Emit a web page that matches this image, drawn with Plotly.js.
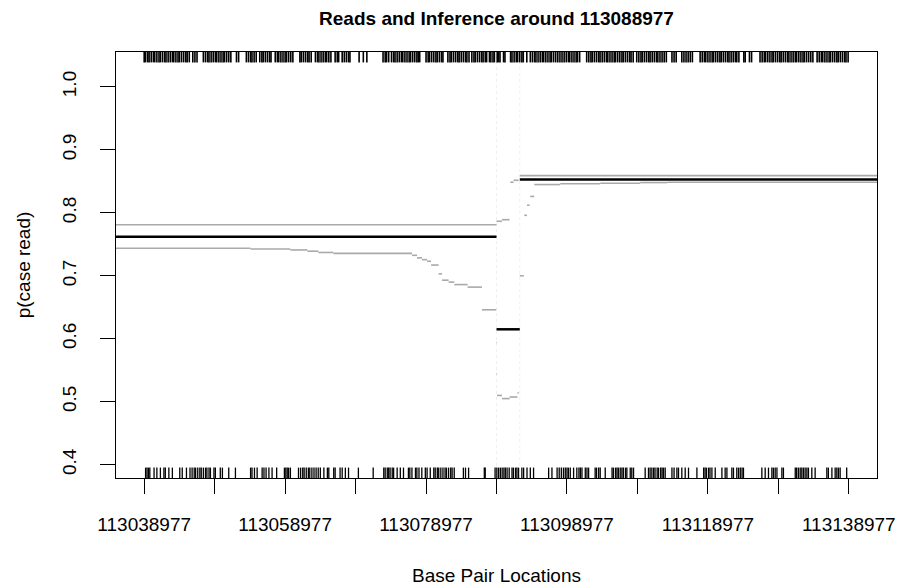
<!DOCTYPE html>
<html>
<head>
<meta charset="utf-8">
<script src="https://cdn.plot.ly/plotly-3.0.1.min.js"></script>
<style>html,body{margin:0;padding:0;background:#fff;}#chart{width:901px;height:586px;}</style>
</head>
<body>
<div id="chart"></div>
<script>
// ---- data ----
const center = 113088977;
const xRange = [113034977, 113142977];
const yRange = [0.3789, 1.0553];

const xTickPositions = [113038977,113048977,113058977,113068977,113078977,113088977,113098977,113108977,113118977,113128977,113138977];
const xTickLabels = ['113038977','','113058977','','113078977','','113098977','','113118977','','113138977'];
const yTickValues = [0.4,0.5,0.6,0.7,0.8,0.9,1.0];
const yTickLabels = ['0.4','0.5','0.6','0.7','0.8','0.9','1.0'];

// read positions (kb offset from center)
const caseReadOffsetsKb = [
-50.0,-49.8,-49.5,-49.3,-49.0,-48.7,-48.5,-48.2,-47.9,-47.7,-47.4,-47.1,-46.9,-46.6,-46.3,-46.0,-45.8,-45.5,-45.2,-45.0,-44.7,-44.4,-44.1,-43.9,-43.6,-43.1,-42.8,-42.5,-41.6,-41.3,-41.0,-40.8,-40.5,-40.2,-39.9,-39.7,-39.4,-39.1,-38.8,-38.6,-38.3,-38.0,-37.7,-36.9,-36.6,
-35.5,
-35.2,-34.9,-34.7,-34.4,-34.1,-33.6,-33.3,-33.1,-32.8,-32.5,-32.2,-32.0,-31.4,-31.1,-30.9,-30.6,-30.3,-30.0,-29.8,-29.5,-29.2,-28.9,-27.9,-27.7,-27.4,-27.1,-26.8,-26.6,-26.3,-25.7,-25.4,-25.2,-24.9,-24.6,-24.3,-24.1,-23.8,-23.5,-22.9,-22.6,-22.4,-21.9,-21.6,-21.3,
-21.0,-20.8,-19.5,-18.9,-18.4,
-16.1,-15.8,-15.6,-15.3,-14.9,-14.6,-14.4,-14.1,-13.8,-13.5,-13.3,-13.0,-12.7,-12.4,-12.2,-11.9,-11.6,-11.3,-11.1,-10.9,-10.0,-9.7,-9.5,-9.2,-8.9,-8.6,-8.4,-8.1,-7.8,-7.6,-6.9,-6.6,-6.4,-6.1,-5.8,-5.5,-5.3,-5.0,-4.7,-4.4,-4.2,-3.9,-3.5,-3.2,-3.0,-2.7,-2.4,-2.1,-1.9,-1.6,-1.4,
-1.0,-0.8,-0.5,-0.3,0.1,0.3,0.5,1.0,1.2,
2.0,2.2,2.5,2.8,3.0,3.3,3.6,3.8,4.3,
4.8,5.1,5.4,5.6,5.9,6.2,6.5,6.7,7.0,7.3,7.6,7.8,8.1,8.4,8.7,9.0,
9.3,9.6,9.9,10.2,10.4,10.7,11.0,11.3,11.5,11.8,
12.8,13.1,13.4,13.6,13.9,14.2,14.5,14.7,15.0,15.3,15.6,15.8,16.1,16.4,16.7,16.9,17.2,17.5,17.8,18.0,18.3,18.6,18.9,19.1,19.4,
19.9,20.2,20.5,20.7,21.0,21.3,21.6,21.8,22.1,22.4,22.7,22.9,23.2,23.5,23.8,24.1,
24.9,25.2,25.5,26.3,26.6,26.9,27.2,27.5,27.8,
28.9,29.2,29.5,29.7,30.0,30.3,30.6,30.8,31.1,31.4,31.7,31.9,32.2,32.5,32.8,33.0,33.3,33.6,33.9,34.1,34.4,
35.1,35.3,35.9,36.2,
37.4,37.7,38.0,38.2,38.5,38.8,39.1,39.3,39.6,39.9,40.2,40.4,40.7,41.0,41.3,41.5,41.8,42.1,42.4,42.6,42.9,43.2,43.5,43.7,44.0,44.3,44.6,44.9,
45.5,45.8,46.1,46.3,46.6,46.9,47.2,47.4,47.7,48.0,48.3,48.5,48.8,49.1,49.4,49.6,49.9
];

const controlReadOffsetsKb = [
-49.8,-49.6,-49.4,-49.2,-48.6,-48.2,-47.7,-47.2,-47.0,-46.5,-46.0,-44.95,-44.6,-44.0,-43.5,
-43.2,-42.9,-42.7,-42.4,-42.1,-41.9,-41.6,-41.3,-41.1,-40.8,-40.6,-40.1,-39.9,-39.2,-38.9,-38.0,-37.05,
-34.9,-34.7,-34.35,-33.97,-33.26,-33.0,-32.7,-32.3,-31.85,-31.2,-30.1,-29.9,-29.7,-29.5,-29.25,
-28.1,-27.8,-27.5,-27.3,-27.0,-26.7,-26.5,-26.2,-25.9,-25.6,-25.3,-25.0,-24.5,-24.0,-23.8,-23.1,-22.9,-22.2,-21.9,-21.45,-21.0,-19.6,-17.5,
-16.0,-15.8,-15.5,-15.3,-15.1,-14.8,-14.6,-14.1,-13.65,-13.2,-12.5,-12.3,-12.0,-11.5,-11.3,-11.0,-10.6,-10.1,-9.85,-9.4,-8.9,
-8.7,-8.4,-8.2,-7.9,-7.6,-7.3,-7.1,-6.8,-6.5,-6.3,-6.0,-4.7,-4.4,-3.96,-1.73,-1.6,
-0.2,0.05,0.3,0.55,0.8,1.05,1.25,1.5,1.8,2.2,2.4,2.7,2.9,3.13,3.6,3.85,4.33,4.8,5.26,
7.4,7.87,8.6,8.9,9.2,9.5,9.76,10.0,10.2,10.47,10.94,11.4,11.7,11.9,12.13,12.6,12.84,13.07,
14.0,14.2,14.5,14.72,15.43,16.4,16.6,16.9,17.1,17.3,17.56,17.8,18.0,18.3,18.5,18.98,19.2,19.45,
21.1,21.57,21.8,22.05,22.3,22.5,22.8,23.0,23.3,23.5,23.7,23.94,24.9,25.2,25.6,25.83,26.3,26.78,27.25,28.44,
29.4,29.6,29.8,30.1,30.3,30.57,31.04,31.99,32.45,32.7,33.4,33.63,34.1,34.35,34.6,34.85,35.05,
37.66,38.13,38.6,39.08,39.3,39.55,39.8,40.5,40.72,42.4,42.6,42.85,43.1,43.33,43.56,43.8,44.05,44.27,44.75,45.22,
46.88,47.1,47.6,48.06,48.3,48.53,48.77,49.7
];

// inferred estimate (black) segments
const estStart = [113034977, 113088977, 113092281];
const estEnd   = [113088977, 113092281, 113142977];
const estValue = [0.762, 0.615, 0.853];

// confidence band (gray) segments
const upperStart = [113034977, 113088977, 113089756, 113090934, 113091401, 113092281];
const upperEnd   = [113088977, 113089756, 113090834, 113091401, 113092110, 113142977];
const upperValue = [0.781, 0.7865, 0.789, 0.8485, 0.8516, 0.859];

const lowerStart = [113034977,113054055,113059728,113062140,113063700,113065828,113076990,113077700,113078410,113079120,113079690,113080764,113081245,113082180,113082990,113084877,113086920,
  113088977,113088977,113089050,113089756,113090834,113091950,
  113092281,113092920,113093302,113093770,113094338,113098025,113103699,113109373,113113202];
const lowerEnd   = [113054055,113059728,113062140,113063700,113065828,113076990,113077700,113078410,113079120,113079690,113080764,113081245,113082180,113082990,113084877,113086920,113088947,
  113089060,113089060,113089756,113090834,113091950,113092110,
  113092850,113093302,113093671,113094338,113098025,113103699,113109373,113113202,113142977];
const lowerValue = [0.7436,0.7425,0.741,0.739,0.737,0.7355,0.7325,0.7284,0.7256,0.723,0.717,0.703,0.693,0.690,0.686,0.682,0.646,
  0.594,0.544,0.510,0.505,0.5075,0.514,
  0.700,0.796,0.812,0.826,0.8448,0.846,0.847,0.848,0.8485];

// breakpoints (faint dotted verticals)
const breakpoints = [113088977, 113092281];

// ---- build traces ----
function segs(starts, ends, vals){
  const xs=[], ys=[];
  for(let i=0;i<starts.length;i++){ xs.push(starts[i], ends[i], null); ys.push(vals[i], vals[i], null); }
  return {xs, ys};
}
function rug(offsets, y0, y1){
  const xs=[], ys=[];
  offsets.forEach(o=>{ const x=center+o*1000; xs.push(x,x,null); ys.push(y0,y1,null); });
  return {xs, ys};
}
const rugLen = 0.0165;
const topRug = rug(caseReadOffsetsKb, yRange[1]-rugLen, yRange[1]);
const botRug = rug(controlReadOffsetsKb, yRange[0], yRange[0]+rugLen);
const up = segs(upperStart, upperEnd, upperValue);
const lo = segs(lowerStart, lowerEnd, lowerValue);
const est = segs(estStart, estEnd, estValue);
const bpx=[], bpy=[];
breakpoints.forEach(b=>{ bpx.push(b,b,null); bpy.push(yRange[0], yRange[1], null); });

const traces = [
  {x:bpx, y:bpy, mode:'lines', line:{color:'#efefef', width:1, dash:'dot'}, hoverinfo:'skip', showlegend:false},
  {x:up.xs, y:up.ys, mode:'lines', line:{color:'#a9a9a9', width:1.6}, hoverinfo:'skip', showlegend:false},
  {x:lo.xs, y:lo.ys, mode:'lines', line:{color:'#a9a9a9', width:1.6}, hoverinfo:'skip', showlegend:false},
  {x:est.xs, y:est.ys, mode:'lines', line:{color:'#000000', width:2.5}, hoverinfo:'skip', showlegend:false},
  {x:topRug.xs, y:topRug.ys, mode:'lines', line:{color:'#000000', width:1.6}, hoverinfo:'skip', showlegend:false},
  {x:botRug.xs, y:botRug.ys, mode:'lines', line:{color:'#000000', width:1.3}, hoverinfo:'skip', showlegend:false}
];

const fontFam = 'Liberation Sans, Arial, Helvetica, sans-serif';
const layout = {
  width:901, height:586,
  paper_bgcolor:'#ffffff', plot_bgcolor:'#ffffff',
  margin:{l:116, r:24, t:52, b:108, pad:0},
  font:{family:fontFam, color:'#000000', size:19},
  title:{text:'Reads and Inference around 113088977', font:{family:fontFam, size:19, weight:'bold', color:'#000'},
         x:0.5, xref:'paper', xanchor:'center', y:1-18.7/586, yref:'container', yanchor:'middle'},
  xaxis:{range:xRange, tickmode:'array', tickvals:xTickPositions, ticktext:xTickLabels,
         ticks:'outside', ticklen:15, tickwidth:1, tickcolor:'#000', showgrid:false, zeroline:false,
         showline:true, linecolor:'#000', linewidth:1, mirror:true, ticklabelstandoff:14,
         tickfont:{family:fontFam, size:19, color:'#000'},
         title:{text:'Base Pair Locations', font:{family:fontFam, size:19, color:'#000'}, standoff:36}},
  yaxis:{range:yRange, tickmode:'array', tickvals:yTickValues, ticktext:yTickLabels, tickangle:-90,
         ticks:'outside', ticklen:15, tickwidth:1, tickcolor:'#000', showgrid:false, zeroline:false,
         showline:true, linecolor:'#000', linewidth:1, mirror:true, ticklabelstandoff:16,
         tickfont:{family:fontFam, size:19, color:'#000'},
         title:{text:'p(case read)', font:{family:fontFam, size:19, color:'#000'}, standoff:23}},
  showlegend:false
};
Plotly.newPlot('chart', traces, layout, {staticPlot:true, displayModeBar:false});
</script>
</body>
</html>
